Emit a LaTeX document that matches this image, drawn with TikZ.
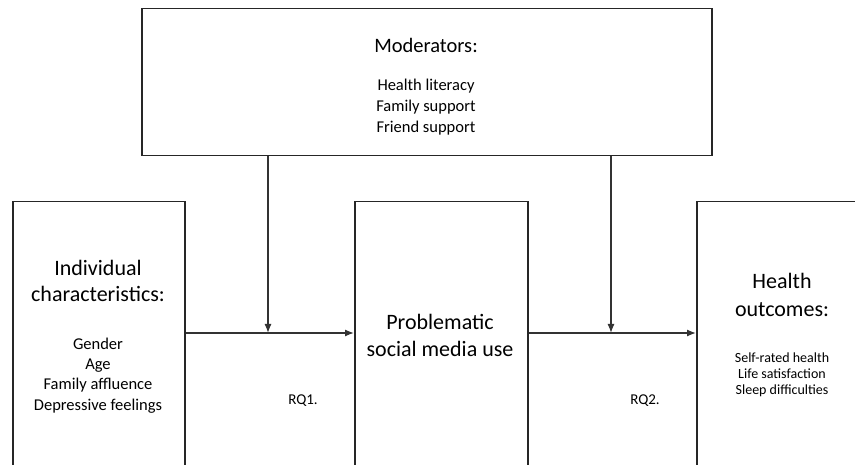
\documentclass[tikz,border=0pt]{standalone}
\usepackage{fontspec}
\setmainfont{Carlito}
\usetikzlibrary{arrows.meta}
\begin{document}
\begin{tikzpicture}[x=1pt,y=-1pt,
  box/.style={draw=black!85,line width=1.5pt,anchor=north west,inner sep=0pt},
  arr/.style={draw=black!80,line width=1.3pt,-{Latex[length=9pt,width=7pt]}},
  txt/.style={inner sep=0pt,align=center,text=black}]
\useasboundingbox (0,0) rectangle (855,465);
\clip (0,0) rectangle (855,465);
\fill[white] (0,0) rectangle (855,465);
% boxes
\node[box,minimum width=570pt,minimum height=147pt] (mod) at (141,8) {};
\node[box,minimum width=172pt,minimum height=290pt] (ind) at (12,201) {};
\node[box,minimum width=173pt,minimum height=290pt] (psm) at (354,201) {};
\node[box,minimum width=172pt,minimum height=290pt] (hout) at (696,201) {};
% texts
\node[txt,font=\fontsize{20.5}{24}\selectfont] (modt) at (426,45) {Moderators:};
\node[txt,font=\fontsize{16.5}{21}\selectfont] (modl) at (426,107) {Health literacy\\Family support\\Friend support};
\node[txt,font=\fontsize{22}{26}\selectfont] (indt) at (98,281) {Individual\\characteristics:};
\node[txt,font=\fontsize{16.5}{20.3}\selectfont] (indl) at (98,375.5) {Gender\\Age\\Family affluence\\Depressive feelings};
\node[txt,font=\fontsize{22}{27}\selectfont] (psmt) at (440,335.5) {Problematic\\social media use};
\node[txt,font=\fontsize{22}{28}\selectfont] (houtt) at (782,295) {Health\\outcomes:};
\node[txt,font=\fontsize{14}{16}\selectfont] (houtl) at (782,375) {Self-rated health\\Life satisfaction\\Sleep difficulties};
\node[txt,font=\fontsize{15}{18}\selectfont] (rq1) at (303,401) {RQ1.};
\node[txt,font=\fontsize{15}{18}\selectfont] (rq2) at (645,401) {RQ2.};
% connectors
\coordinate (j1) at (268,333);
\coordinate (j2) at (611,333);
\draw[arr] (ind.east |- j1) -- (psm.west |- j1);
\draw[arr] (psm.east |- j2) -- (hout.west |- j2);
\draw[arr] (mod.south -| j1) -- (j1);
\draw[arr] (mod.south -| j2) -- (j2);
\end{tikzpicture}
\end{document}
